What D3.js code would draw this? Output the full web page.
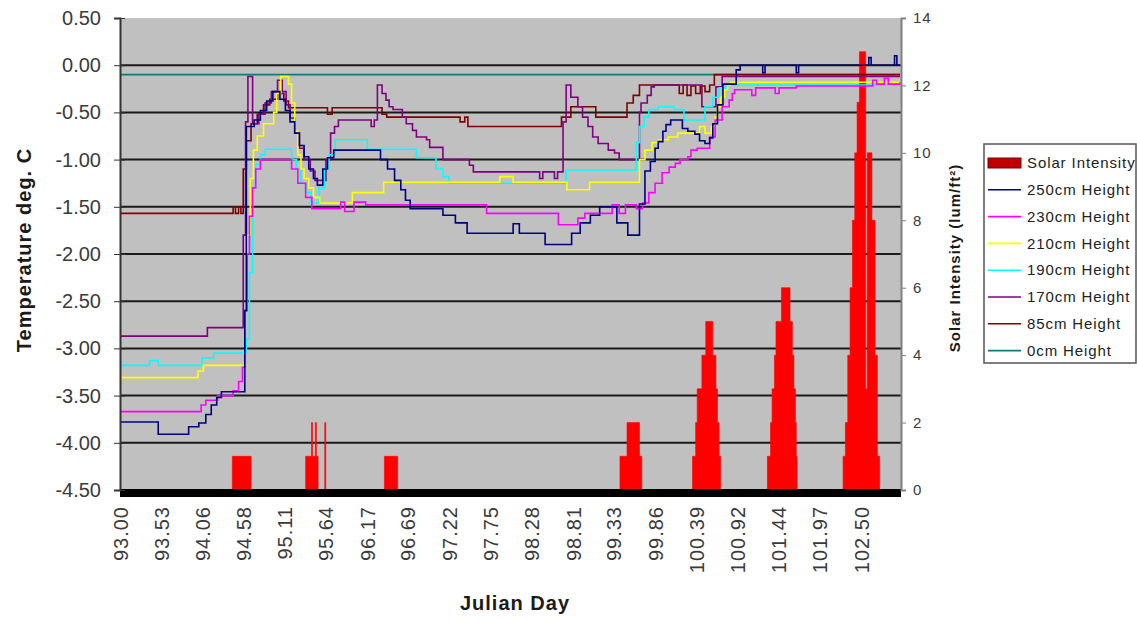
<!DOCTYPE html>
<meta charset="utf-8">
<style>
    * {
        margin: 0px;
    }
    body {
        background: #fff;
    }
    text {
        font-family: Arial, "Liberation Sans", sans-serif;
    }
    .tick text {
        fill: #3a3a3a;
    }
    .lines path {
        fill: none;
        stroke-width: 1.6px;
    }
</style>
<svg width="1137" height="623"></svg>
<script src="https://d3js.org/d3.v7.min.js"></script>
<script>
    // tick labels
    var xTickLabels = ["93.00", "93.53", "94.06", "94.58", "95.11", "95.64", "96.17", "96.69", "97.22", "97.75",
        "98.28", "98.81", "99.33", "99.86", "100.39", "100.92", "101.44", "101.97", "102.50"];
    var tempTicks = [0.5, 0, -0.5, -1, -1.5, -2, -2.5, -3, -3.5, -4, -4.5];
    var solarTicks = [0, 2, 4, 6, 8, 10, 12, 14];

    var seriesNames = ["Solar Intensity", "250cm Height", "230cm Height", "210cm Height",
        "190cm Height", "170cm Height", "85cm Height", "0cm Height"];

    // [julian day, deg C] - each value holds until the next point
    var h250 = [[93.00,-3.78],[93.49,-3.91],[93.88,-3.83],[94.01,-3.79],[94.10,-3.70],[94.17,-3.60],[94.24,-3.52],[94.30,-3.46],
        [94.60,-2.60],[94.62,-0.65],[94.72,-0.58],[94.80,-0.48],[94.88,-0.38],[94.96,-0.28],[95.05,-0.36],[95.12,-0.48],
        [95.18,-0.60],[95.24,-0.72],[95.30,-0.85],[95.36,-0.97],[95.42,-1.10],[95.48,-1.20],[95.53,-1.27],[95.60,-1.10],
        [95.66,-0.98],[95.74,-0.90],[96.34,-1.00],[96.43,-1.10],[96.52,-1.22],[96.60,-1.32],[96.66,-1.43],[96.72,-1.52],
        [97.14,-1.59],[97.30,-1.67],[97.45,-1.78],[98.04,-1.68],[98.12,-1.78],[98.45,-1.90],[98.79,-1.78],[98.90,-1.67],
        [99.03,-1.59],[99.15,-1.50],[99.37,-1.67],[99.51,-1.80],[99.66,-1.47],[99.73,-1.12],[99.80,-1.02],[99.86,-0.88],
        [99.90,-0.81],[99.96,-0.70],[100.00,-0.63],[100.06,-0.58],[100.21,-0.67],[100.28,-0.70],[100.37,-0.73],[100.43,-0.80],
        [100.50,-0.83],[100.56,-0.77],[100.60,-0.62],[100.66,-0.42],[100.73,-0.20],[100.90,-0.05],[100.95,0.00],[101.24,-0.08],
        [101.27,0.00],[101.67,-0.08],[101.70,0.00],[102.60,0.08],[102.63,0.00],[102.93,0.10],[102.96,0.00],[103.00,0.00]];

    var h230 = [[93.00,-3.67],[94.04,-3.60],[94.10,-3.55],[94.25,-3.50],[94.45,-3.45],[94.52,-3.35],[94.57,-3.20],[94.60,-2.60],
        [94.63,-2.00],[94.66,-1.60],[94.70,-1.30],[94.74,-1.10],[94.80,-1.00],[95.20,-1.10],[95.28,-1.25],[95.38,-1.40],
        [95.46,-1.52],[95.83,-1.45],[95.88,-1.55],[96.00,-1.45],[96.15,-1.48],[97.70,-1.57],[98.62,-1.69],[98.87,-1.62],
        [98.96,-1.57],[99.31,-1.48],[99.40,-1.57],[99.48,-1.48],[99.62,-1.52],[99.70,-1.46],[99.78,-1.35],[99.86,-1.25],
        [99.95,-1.14],[100.04,-1.08],[100.12,-1.04],[100.18,-1.00],[100.28,-0.97],[100.32,-0.90],[100.40,-0.88],[100.56,-0.76],
        [100.63,-0.58],[100.72,-0.44],[100.81,-0.37],[100.85,-0.30],[100.88,-0.26],[101.10,-0.32],[101.15,-0.24],[101.40,-0.30],
        [101.45,-0.24],[101.67,-0.22],[102.65,-0.16],[102.70,-0.20],[102.80,-0.14],[102.85,-0.20],[103.00,-0.18]];

    var h210 = [[93.00,-3.31],[94.00,-3.24],[94.07,-3.18],[94.60,-2.60],[94.63,-1.80],[94.67,-1.20],[94.71,-0.90],[94.76,-0.75],
        [94.84,-0.62],[94.97,-0.50],[95.01,-0.30],[95.06,-0.12],[95.16,-0.20],[95.20,-0.40],[95.24,-0.70],[95.28,-0.95],
        [95.32,-1.10],[95.36,-1.20],[95.42,-1.30],[95.48,-1.40],[95.56,-1.46],[95.98,-1.35],[96.38,-1.24],[97.87,-1.18],
        [98.04,-1.24],[98.73,-1.32],[99.02,-1.24],[99.66,-1.00],[99.73,-0.90],[99.82,-0.82],[99.90,-0.79],[100.03,-0.76],
        [100.15,-0.72],[100.43,-0.65],[100.50,-0.72],[100.58,-0.65],[100.63,-0.55],[100.66,-0.44],[100.70,-0.34],[100.75,-0.26],
        [100.79,-0.21],[100.83,-0.18],[103.00,-0.18]];

    var h190 = [[93.00,-3.18],[93.38,-3.13],[93.49,-3.18],[94.05,-3.10],[94.20,-3.05],[94.62,-2.90],[94.66,-2.20],[94.70,-1.30],
        [94.74,-1.05],[94.80,-0.95],[94.86,-0.89],[95.20,-1.00],[95.26,-1.10],[95.32,-1.25],[95.38,-1.35],[95.45,-1.46],
        [95.55,-1.30],[95.62,-1.10],[95.68,-0.95],[95.76,-0.79],[96.17,-0.89],[96.80,-0.98],[97.05,-1.10],[97.14,-1.18],
        [97.22,-1.25],[98.72,-1.11],[99.62,-0.82],[99.66,-0.65],[99.72,-0.55],[99.78,-0.47],[99.90,-0.44],[100.10,-0.47],
        [100.23,-0.58],[100.50,-0.44],[100.60,-0.34],[100.68,-0.24],[100.77,-0.21],[103.00,-0.21]];

    var h170 = [[93.00,-2.87],[94.12,-2.78],[94.58,-1.80],[94.61,-0.60],[94.64,-0.12],[94.70,-0.62],[94.78,-0.52],[94.86,-0.40],
        [94.94,-0.28],[95.02,-0.16],[95.08,-0.28],[95.13,-0.42],[95.18,-0.56],[95.24,-0.72],[95.30,-0.88],[95.36,-1.00],
        [95.44,-1.12],[95.50,-1.22],[95.64,-1.00],[95.70,-0.72],[95.75,-0.65],[95.80,-0.58],[96.22,-0.65],[96.26,-0.58],
        [96.30,-0.21],[96.36,-0.30],[96.41,-0.37],[96.45,-0.44],[96.50,-0.47],[96.62,-0.55],[96.67,-0.62],[96.75,-0.69],
        [96.80,-0.76],[96.93,-0.79],[96.97,-0.87],[97.14,-1.00],[97.48,-1.06],[97.53,-1.13],[98.38,-1.20],[98.42,-1.13],
        [98.57,-1.20],[98.61,-1.13],[98.68,-0.60],[98.72,-0.21],[98.78,-0.34],[98.87,-0.44],[98.93,-0.55],[99.00,-0.65],
        [99.06,-0.76],[99.13,-0.83],[99.26,-0.90],[99.34,-0.93],[99.40,-1.00],[99.66,-0.50],[99.68,-0.40],[99.76,-0.32],
        [99.81,-0.23],[99.85,-0.21],[100.46,-0.44],[100.64,-0.23],[100.72,-0.12],[103.00,-0.12]];

    var h85 = [[93.00,-1.57],[94.45,-1.50],[94.48,-1.57],[94.52,-1.50],[94.55,-1.57],[94.58,-1.10],[94.62,-0.80],[94.68,-0.62],
        [94.76,-0.52],[94.84,-0.42],[94.92,-0.36],[95.02,-0.30],[95.10,-0.38],[95.16,-0.45],[95.66,-0.52],[95.72,-0.45],
        [96.36,-0.52],[96.42,-0.55],[97.36,-0.60],[97.42,-0.55],[97.46,-0.65],[98.66,-0.55],[98.78,-0.44],[99.10,-0.55],
        [99.50,-0.40],[99.58,-0.32],[99.66,-0.21],[100.17,-0.30],[100.22,-0.21],[100.27,-0.32],[100.32,-0.22],[100.38,-0.30],
        [100.44,-0.22],[100.50,-0.28],[100.56,-0.21],[100.62,-0.10],[103.00,-0.10]];

    var h0 = [[93.00,-0.10],[103.00,-0.10]];

    // [julian day, lum/ft2] - column height holds until the next point
    var solar = [[93.00,0],[94.44,1],[94.68,0],[95.38,1],[95.455,2],[95.468,1],[95.505,2],[95.518,1],[95.54,0],[95.625,2],
        [95.638,0],[96.39,1],[96.56,0],[99.41,1],[99.50,2],[99.66,1],[99.69,0],[100.34,1],[100.38,2],[100.40,3],[100.46,4],
        [100.51,5],[100.60,4],[100.64,3],[100.66,2],[100.68,1],[100.70,0],[101.30,1],[101.34,2],[101.36,3],[101.39,4],
        [101.41,5],[101.48,6],[101.59,5],[101.62,4],[101.64,3],[101.66,2],[101.67,1],[101.68,0],[102.27,1],[102.30,2],
        [102.33,4],[102.36,6],[102.39,8],[102.42,10],[102.45,11.5],[102.48,13],[102.56,3],[102.58,10],[102.64,8],
        [102.68,4],[102.71,1],[102.74,0],[103.00,0]];

    var tempSeries = [h250, h230, h210, h190, h170, h85, h0];
    var lineColors = ["#000080", "#ff00ff", "#ffff00", "#00ffff", "#800080", "#800000", "#008080"];

    var svg = d3.select("svg");
    var plotL = 120, plotR = 901, plotT = 18, plotB = 490;

    var x = d3.scaleLinear().domain([93, 103]).range([plotL, plotR - 1]);
    var yT = d3.scaleLinear().domain([-4.5, 0.5]).range([plotB, plotT]);
    var yS = d3.scaleLinear().domain([0, 14]).range([plotB, plotT]);

    // plot area
    svg.append("rect")
        .attr("x", plotL).attr("y", plotT)
        .attr("width", plotR - plotL).attr("height", plotB - plotT)
        .attr("fill", "#c0c0c0");

    svg.append("g")
        .selectAll("line")
        .data(tempTicks.filter(function(d) { return d < 0.5; }))
        .enter().append("line")
        .attr("x1", plotL).attr("x2", plotR)
        .attr("y1", function(d) { return yT(d); })
        .attr("y2", function(d) { return yT(d); })
        .attr("stroke", "#1a1a1a")
        .attr("stroke-width", 2);

    // solar columns - one stepped area so neighbouring columns don't leave seams
    var solarArea = d3.area()
        .x(function(d) { return x(d[0]); })
        .y0(yS(0))
        .y1(function(d) { return yS(d[1]); })
        .curve(d3.curveStepAfter);

    svg.append("path")
        .datum(solar)
        .attr("d", solarArea)
        .attr("fill", "#ff0000")
        .attr("stroke", "#ff0000")
        .attr("stroke-width", 0.6);

    var line = d3.line()
        .x(function(d) { return x(d[0]); })
        .y(function(d) { return yT(d[1]); })
        .curve(d3.curveStepAfter);

    // draw back to front so 250cm ends up on top like excel
    svg.append("g")
        .attr("class", "lines")
        .selectAll("path")
        .data(tempSeries.slice().reverse())
        .enter().append("path")
        .attr("d", line)
        .attr("stroke", function(d, i) { return lineColors[tempSeries.length - 1 - i]; });

    // thick base bar
    svg.append("rect")
        .attr("x", plotL).attr("y", plotB - 1)
        .attr("width", plotR - plotL).attr("height", 8)
        .attr("fill", "#000");

    // left axis
    var yAxisL = svg.append("g")
        .attr("transform", "translate(" + plotL + ",0)")
        .call(d3.axisLeft(yT).tickValues(tempTicks).tickSize(6).tickPadding(13)
            .tickFormat(function(d) { return d.toFixed(2); }));
    yAxisL.select(".domain").attr("stroke", "#333").attr("stroke-width", 2);
    yAxisL.selectAll(".tick line").attr("stroke", "#333").attr("x2", 5).attr("x1", -6);
    yAxisL.selectAll(".tick text").style("font-size", "20px");

    // right axis
    var yAxisR = svg.append("g")
        .attr("transform", "translate(" + plotR + ",0)")
        .call(d3.axisRight(yS).tickValues(solarTicks).tickSize(5).tickPadding(7));
    yAxisR.select(".domain").attr("stroke", "#808080").attr("stroke-width", 2);
    yAxisR.selectAll(".tick line").attr("stroke", "#808080");
    yAxisR.selectAll(".tick text").style("font-size", "15px").style("letter-spacing", "1px").attr("fill", "#555");

    // x axis, labels turned on their side
    var xAxis = svg.append("g")
        .attr("transform", "translate(0," + plotB + ")")
        .call(d3.axisBottom(x).tickValues(xTickLabels.map(Number)).tickSize(0)
            .tickFormat(function(d, i) { return xTickLabels[i]; }));
    xAxis.select(".domain").remove();
    xAxis.selectAll(".tick text")
        .attr("transform", "rotate(-90)")
        .attr("x", -16).attr("y", 0).attr("dy", "0.35em")
        .style("text-anchor", "end")
        .style("font-size", "20px")
        .style("letter-spacing", "1px");

    // titles
    svg.append("text")
        .attr("transform", "translate(31,250) rotate(-90)")
        .attr("text-anchor", "middle")
        .style("font-size", "20px").style("font-weight", "bold").style("letter-spacing", "1px")
        .attr("fill", "#1a1a1a")
        .text("Temperature deg. C");

    svg.append("text")
        .attr("transform", "translate(960,258) rotate(-90)")
        .attr("text-anchor", "middle")
        .style("font-size", "15px").style("font-weight", "bold").style("letter-spacing", "1px")
        .attr("fill", "#1a1a1a")
        .text("Solar Intensity (lum/ft\u00b2)");

    svg.append("text")
        .attr("x", 515).attr("y", 610)
        .attr("text-anchor", "middle")
        .style("font-size", "20px").style("font-weight", "bold").style("letter-spacing", "1px")
        .attr("fill", "#1a1a1a")
        .text("Julian Day");

    // legend
    var legend = svg.append("g");
    legend.append("rect")
        .attr("x", 984).attr("y", 144)
        .attr("width", 152).attr("height", 219)
        .attr("fill", "#fff").attr("stroke", "#555").attr("stroke-width", 1.5);

    var item = legend.selectAll(".item")
        .data(seriesNames)
        .enter().append("g")
        .attr("class", "item")
        .attr("transform", function(d, i) { return "translate(988," + (163 + i * 26.8) + ")"; });

    item.each(function(d, i) {
        var g = d3.select(this);
        if (i === 0) {
            g.append("rect").attr("x", 0).attr("y", -5).attr("width", 33).attr("height", 10)
                .attr("fill", "#c00000").attr("stroke", "#800000");
        } else {
            g.append("line").attr("x1", 0).attr("x2", 33)
                .attr("stroke", lineColors[i - 1]).attr("stroke-width", 1.6);
        }
    });

    item.append("text")
        .attr("x", 39).attr("dy", "0.35em")
        .style("font-size", "15px").style("letter-spacing", "0.9px")
        .attr("fill", "#222")
        .text(function(d) { return d; });
</script>
